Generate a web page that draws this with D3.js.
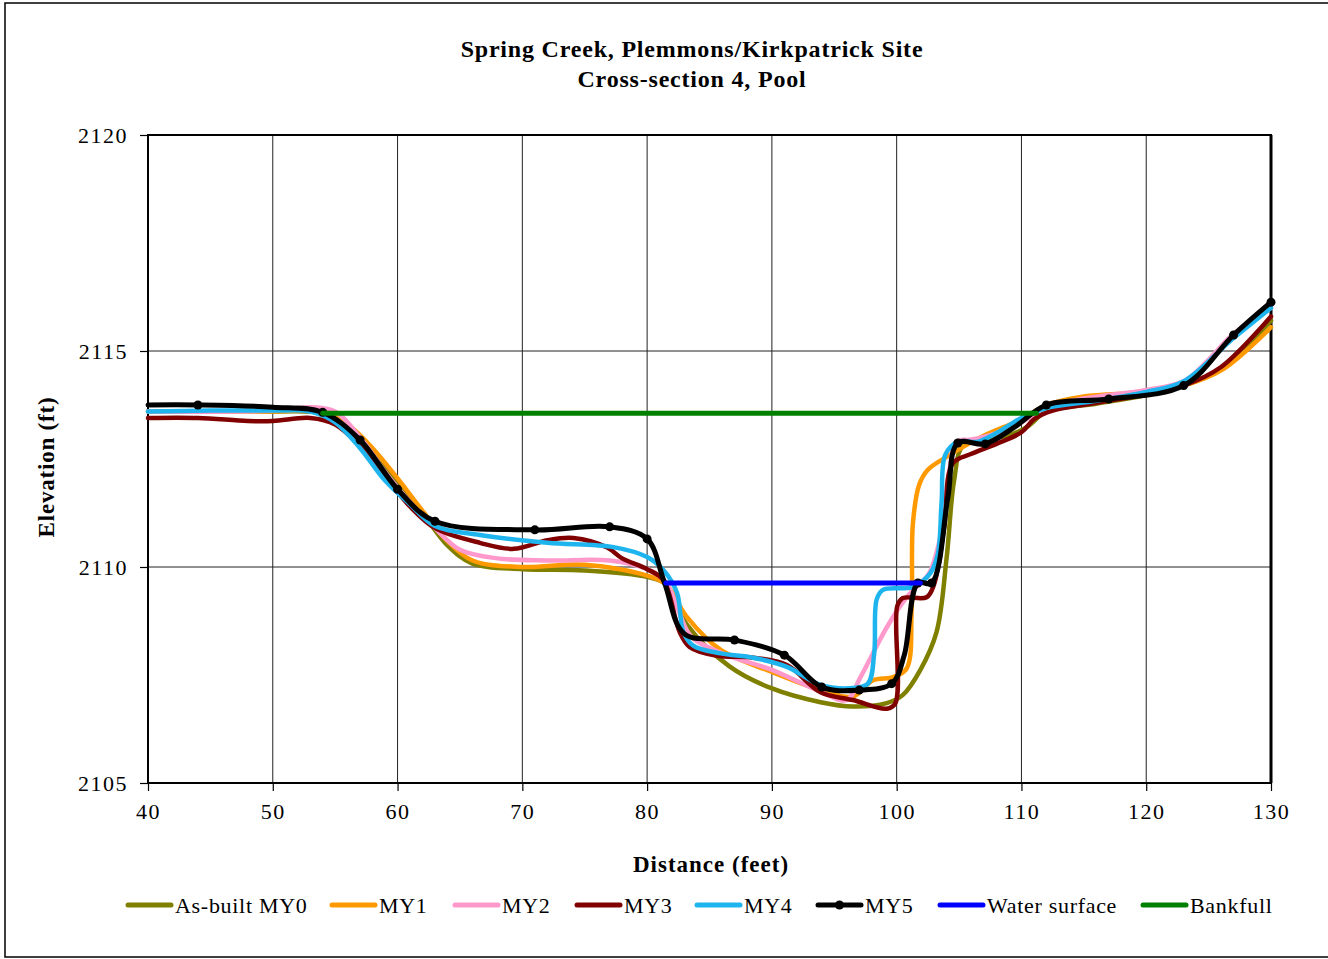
<!DOCTYPE html>
<html><head><meta charset="utf-8">
<script src="https://cdn.jsdelivr.net/npm/d3@7"></script>
<style>body{margin:0;background:#fff}svg{display:block}</style>
</head><body><svg id="c" width="1328" height="959"></svg>
<script>
const titleLines = ["Spring Creek, Plemmons/Kirkpatrick Site", "Cross-section 4, Pool"];
const xLabel = "Distance (feet)";
const yLabel = "Elevation (ft)";
const xTicks = [40, 50, 60, 70, 80, 90, 100, 110, 120, 130];
const yTicks = [2105, 2110, 2115, 2120];
const seriesNames = ["As-built MY0", "MY1", "MY2", "MY3", "MY4", "MY5", "Water surface", "Bankfull"];

const my0 = [[40,2113.6],[45,2113.6],[50,2113.6],[54,2113.55],[56,2113.2],[58,2112.6],[60,2111.95],[62,2111.25],[64,2110.5],[66,2110.08],[70,2109.95],[75,2109.92],[80,2109.77],[81.5,2109.6],[83.2,2108.66],[86.6,2107.7],[89.9,2107.2],[93.9,2106.87],[96.5,2106.77],[99.2,2106.85],[100.5,2107.04],[101.9,2107.62],[103.2,2108.5],[104,2110.2],[104.6,2112.0],[105.3,2112.8],[107,2112.95],[109,2113.05],[110.5,2113.25],[112,2113.6],[116,2113.78],[120,2113.98],[123,2114.2],[126,2114.6],[130,2115.7]];
const my1 = [[40,2113.6],[50,2113.6],[54,2113.6],[56,2113.3],[58,2112.75],[60,2112.05],[62,2111.3],[64,2110.6],[66,2110.15],[70,2110.0],[75,2110.05],[80,2109.8],[81.5,2109.6],[83.2,2108.84],[85.9,2108.08],[90,2107.57],[93.9,2107.15],[96.5,2107.0],[98.1,2107.38],[99.7,2107.45],[100.8,2107.65],[101.2,2109.0],[101.3,2111.0],[101.8,2111.9],[102.5,2112.25],[104,2112.55],[106.7,2113.0],[110,2113.42],[112,2113.75],[115,2113.95],[120,2114.05],[123,2114.2],[126,2114.55],[130,2115.55]];
const my2 = [[40,2113.6],[50,2113.62],[53,2113.7],[55,2113.6],[57,2113.0],[59,2112.2],[61,2111.5],[63,2110.9],[65,2110.4],[68,2110.2],[72,2110.15],[77,2110.15],[80,2109.95],[81.5,2109.65],[82.5,2109.0],[83.5,2108.4],[86,2108.0],[90,2107.62],[94,2107.1],[96,2106.92],[97.1,2107.45],[99.2,2108.6],[100.8,2109.3],[101.8,2109.6],[102.6,2109.85],[103.5,2110.7],[104.2,2112.2],[104.8,2112.9],[106,2112.95],[108,2113.1],[110,2113.35],[112,2113.7],[115,2113.9],[120,2114.1],[123,2114.3],[125,2114.8],[127,2115.4],[130,2116.0]];
const my3 = [[40,2113.45],[44,2113.45],[48,2113.38],[50,2113.38],[53,2113.45],[55,2113.3],[57,2112.8],[59,2112.1],[61,2111.4],[63,2110.9],[66.6,2110.56],[69.3,2110.42],[72,2110.62],[74.1,2110.67],[76.8,2110.45],[78,2110.2],[80,2109.95],[81.3,2109.7],[82.6,2108.5],[83.4,2108.15],[85.5,2107.95],[88.5,2107.9],[91.2,2107.73],[93.9,2107.1],[96.5,2106.92],[99.2,2106.72],[99.9,2106.85],[100.05,2109.1],[100.5,2109.28],[102.4,2109.3],[103,2109.6],[103.8,2110.9],[104.5,2112.4],[106,2112.62],[108,2112.85],[110,2113.12],[111,2113.42],[112.5,2113.62],[116,2113.8],[120,2114.0],[123,2114.2],[126,2114.63],[130,2115.8]];
const my4 = [[40,2113.6],[45,2113.62],[50,2113.62],[53,2113.6],[55,2113.35],[57,2112.75],[59,2112.0],[61,2111.45],[63,2110.95],[66.6,2110.74],[72,2110.56],[77.3,2110.46],[80,2110.23],[81.3,2109.93],[82.4,2109.4],[82.9,2108.5],[83.7,2108.18],[85.9,2108.0],[88.5,2107.9],[91.2,2107.69],[93.9,2107.27],[96.5,2107.2],[97.7,2107.3],[98.2,2108.0],[98.4,2109.25],[98.9,2109.47],[101.3,2109.54],[102.7,2109.86],[103.3,2110.3],[103.6,2111.5],[103.9,2112.6],[104.9,2112.9],[106.5,2112.9],[108,2113.1],[110,2113.45],[112,2113.68],[116,2113.85],[120,2114.05],[123,2114.3],[127,2115.3],[130,2116.0]];
// [distance, elevation, surveyed point shown with a marker (1) or shape point (0)]
const my5 = [[40,2113.75,0],[44,2113.75,1],[50,2113.7,0],[54,2113.58,1],[57,2112.94,1],[60,2111.8,1],[63,2111.06,1],[71,2110.86,1],[77,2110.93,1],[80,2110.65,1],[81.4,2109.63,0],[83,2108.45,0],[87,2108.31,1],[91,2107.96,1],[94,2107.22,1],[97,2107.15,1],[99.6,2107.3,1],[100.6,2107.95,0],[101.7,2109.63,1],[102.8,2109.63,1],[104.1,2111.6,0],[104.9,2112.87,1],[107.1,2112.85,1],[109.5,2113.25,0],[112,2113.75,1],[117,2113.89,1],[123,2114.2,1],[127,2115.37,1],[130,2116.13,1]];
const waterSurface = [[81.5,2109.63],[101.9,2109.63]];
const bankfull = [[54,2113.56],[111.2,2113.56]];

const seriesData = [my0, my1, my2, my3, my4, my5, waterSurface, bankfull];
const colors = ["#7f7f00", "#ff9900", "#ff99cc", "#800000", "#1eb4ee", "#000000", "#0000ff", "#008000"];
const widths = [4.5, 4.5, 4.5, 4.5, 4.5, 5, 5, 5];

const svg = d3.select("#c");
const M = {l: 148, r: 1271, t: 135, b: 783};
const x = d3.scaleLinear().domain([40, 130]).range([M.l, M.r]);
const y = d3.scaleLinear().domain([2105, 2120]).range([M.b, M.t]);
const serif = "'Liberation Serif','Times New Roman',serif";

// outer frame
svg.append("rect").attr("x", 5).attr("y", 3).attr("width", 1340).attr("height", 954)
  .attr("fill", "none").attr("stroke", "#000").attr("stroke-width", 1.5);

// gridlines
svg.append("g").selectAll("line").data(xTicks.slice(1, -1)).join("line")
  .attr("x1", d => x(d)).attr("x2", d => x(d)).attr("y1", M.t).attr("y2", M.b)
  .attr("stroke", "#222").attr("stroke-width", 1);
svg.append("g").selectAll("line").data(yTicks.slice(1, -1)).join("line")
  .attr("y1", d => y(d)).attr("y2", d => y(d)).attr("x1", M.l).attr("x2", M.r)
  .attr("stroke", "#222").attr("stroke-width", 1);

// axes
const xAxis = svg.append("g").attr("transform", `translate(0,${M.b})`)
  .call(d3.axisBottom(x).tickValues(xTicks).tickSize(8).tickPadding(12).tickFormat(d3.format("d")));
const yAxis = svg.append("g").attr("transform", `translate(${M.l},0)`)
  .call(d3.axisLeft(y).tickValues(yTicks).tickSize(8).tickPadding(12).tickFormat(d3.format("d")));
[xAxis, yAxis].forEach(a => {
  a.select(".domain").remove();
  a.selectAll(".tick line").attr("stroke", "#000").attr("stroke-width", 1.2);
  a.selectAll("text").attr("font-family", serif).attr("font-size", 22).attr("fill", "#000")
    .attr("letter-spacing", "1.5px");
});
xAxis.selectAll("text").attr("dy", "0.71em");

// plot frame
svg.append("rect").attr("x", M.l).attr("y", M.t).attr("width", M.r - M.l).attr("height", M.b - M.t)
  .attr("fill", "none").attr("stroke", "#000").attr("stroke-width", 2);
svg.append("line").attr("x1", M.r).attr("x2", M.r).attr("y1", M.t).attr("y2", M.b)
  .attr("stroke", "#000").attr("stroke-width", 3);

// series
const line = d3.line().x(d => x(d[0])).y(d => y(d[1])).curve(d3.curveCatmullRom.alpha(0.5));
const plot = svg.append("g");
seriesData.forEach((data, i) => {
  plot.append("path").datum(data).attr("d", line).attr("fill", "none")
    .attr("stroke", colors[i]).attr("stroke-width", widths[i])
    .attr("stroke-linejoin", "round").attr("stroke-linecap", "round");
  if (i === 5) {
    plot.append("g").selectAll("circle").data(data.filter(d => d[2])).join("circle")
      .attr("cx", d => x(d[0])).attr("cy", d => y(d[1])).attr("r", 4.5).attr("fill", "#000");
  }
});

// titles
svg.append("text").attr("x", 692).attr("font-family", serif).attr("font-weight", "bold")
  .attr("font-size", 24).attr("letter-spacing", "0.8px").attr("text-anchor", "middle").attr("fill", "#000")
  .selectAll("tspan").data(titleLines).join("tspan")
  .attr("x", 692).attr("y", (d, i) => 57 + i * 30).text(d => d);

svg.append("text").attr("x", 711).attr("y", 872).attr("font-family", serif).attr("font-weight", "bold")
  .attr("font-size", 23).attr("letter-spacing", "1px").attr("text-anchor", "middle").text(xLabel);
svg.append("text").attr("transform", "translate(54,467) rotate(-90)").attr("font-family", serif)
  .attr("font-weight", "bold").attr("font-size", 23).attr("letter-spacing", "0.8px")
  .attr("text-anchor", "middle").text(yLabel);

// legend
const legendX = [128, 332, 455, 577, 697, 818, 940, 1143];
const lg = svg.append("g");
seriesNames.forEach((name, i) => {
  const g = lg.append("g").attr("transform", `translate(${legendX[i]},905)`);
  g.append("line").attr("x1", 0).attr("x2", 43).attr("y1", 0).attr("y2", 0)
    .attr("stroke", colors[i]).attr("stroke-width", 5).attr("stroke-linecap", "round");
  if (i === 5) g.append("circle").attr("cx", 21.5).attr("cy", 0).attr("r", 4.5).attr("fill", "#000");
  g.append("text").attr("x", 47).attr("y", 8).attr("font-family", serif).attr("font-size", 22)
    .attr("letter-spacing", "0.7px").text(name);
});
</script>
</body></html>
